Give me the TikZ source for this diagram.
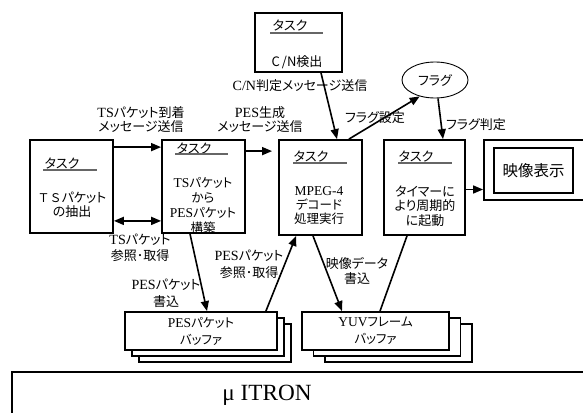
\documentclass[tikz,border=0pt]{standalone}
\usepackage{fontspec}
\setmainfont[Scale=1.08]{Liberation Serif}
\newfontfamily\jp[RawFeature=+palt]{Noto Sans CJK JP}
\newfontfamily\jpfull{Noto Sans CJK JP}
\usetikzlibrary{arrows.meta,shapes.geometric}
\newcommand\latn[1]{{\rmfamily #1}}
\begin{document}
\begin{tikzpicture}[x=1pt,y=-1pt,
 box/.style={draw, line width=1.8pt, fill=white, inner sep=0pt},
 txt/.style={font=\jp\fontsize{13}{14.5}\selectfont, align=center, inner sep=0pt},
 lbl/.style={font=\jp\fontsize{13}{15}\selectfont, align=center, inner sep=0pt},
 ttl/.style={font=\jp\fontsize{13}{14}\selectfont, inner sep=0pt},
 uline/.style={draw=black!60, line width=1.2pt},
 arr/.style={line width=1.6pt, -{Triangle[length=10pt,width=8pt]}},
 darr/.style={line width=1.6pt, {Triangle[length=10pt,width=8pt]}-{Triangle[length=10pt,width=8pt]}},
 plainline/.style={line width=1.6pt},
 buf/.style={draw, line width=1.8pt, fill=white, inner sep=0pt, minimum height=38pt}
]
\useasboundingbox (0,0) rectangle (583,412);
\begin{scope}
\clip (0,0) rectangle (583,412);
% micro ITRON base
\node[box, minimum width=588pt, minimum height=80pt] (itron) at (306,412) {};
\node[font=\rmfamily\fontsize{21.5}{25}\selectfont, inner sep=0pt] (itrontxt) at (267,395) {μ ITRON};
% display box (clipped at right)
\node[box, minimum width=116pt, minimum height=60pt] (b5) at (542,170) {};
\end{scope}
\node[box, minimum width=79pt, minimum height=45pt] (b5in) at (533.5,170.5) {};
\node[font=\jpfull\fontsize{15.5}{17}\selectfont, inner sep=0pt] (b5txt) at (533.5,171) {映像表示};

% task boxes
\node[box, minimum width=87pt, minimum height=59pt] (cn) at (298.5,42.5) {};
\node[box, minimum width=83pt, minimum height=93pt] (b1) at (71.5,186.5) {};
\node[box, minimum width=83pt, minimum height=93pt] (b2) at (203.5,186.5) {};
\node[box, minimum width=83pt, minimum height=95pt] (b3) at (320.5,187.5) {};
\node[box, minimum width=81pt, minimum height=95pt] (b4) at (424.5,187.5) {};
\node[draw, ellipse, line width=0.9pt, minimum width=66pt, minimum height=36pt, inner sep=0pt, font=\jp\fontsize{13}{14}\selectfont] (flag) at (435,80) {フラグ};

% titles
\node[ttl] (t0) at (290,25) {タスク};
\draw[uline] (270,33) -- (323,33);
\node[ttl] (t1) at (62,163) {タスク};
\draw[uline] (43,170) -- (97,170);
\node[ttl] (t2) at (194,148) {タスク};
\draw[uline] (175,154) -- (228,154);
\node[ttl] (t3) at (311,156) {タスク};
\draw[uline] (293,163) -- (347,163);
\node[ttl] (t4) at (416,156) {タスク};
\draw[uline] (398,163) -- (452,163);

% box texts
\node[txt] (x0) at (297,62) {C\,/N検出};
\node[txt] (x1) at (72,205) {{\jpfull\fontsize{12}{14}\selectfont ＴＳ}パケット\\の抽出};
\node[txt, font=\jp\fontsize{12.5}{15}\selectfont] (x2) at (203,205.5) {\latn{TS}パケット\\から\\\latn{PES}パケット\\構築};
\node[txt, font=\jp\fontsize{12.5}{14}\selectfont] (x3) at (319,205.5) {\latn{MPEG-4}\\デコード\\処理実行};
\node[txt] (x4) at (425,206) {タイマーに\\より周期的\\に起動};

% buffers
\node[buf, minimum width=152pt] (pes3) at (215,343) {};
\node[buf, minimum width=152pt] (pes2) at (208,337) {};
\node[buf, minimum width=152pt, align=center, font=\jp\fontsize{12.5}{17}\selectfont] (pes) at (201,331) {\latn{PES}パケット\\バッファ};
\node[buf, minimum width=147pt] (yuv3) at (398.5,343) {};
\node[buf, minimum width=147pt] (yuv2) at (387,337) {};
\node[buf, minimum width=147pt, align=center, font=\jp\fontsize{12.5}{17}\selectfont] (yuv) at (375.5,331) {\latn{YUV}フレーム\\バッファ};

% connectors
\draw[arr] ([yshift=-8pt]b1.north east) -- ([yshift=-8pt]b2.north west);
\draw[arr] ([yshift=-12pt]b2.north east) -- ([yshift=-12pt,xshift=-6pt]b3.north west);
\draw[darr] ([yshift=13pt]b1.south east) -- ([yshift=13pt]b2.south west);
\draw[arr] ([xshift=22.5pt]cn.south) -- ([xshift=16.5pt]b3.north);
\draw[arr] ([xshift=-14pt]b3.north east) -- (flag.227);
\draw[arr] ([xshift=3pt]flag.south) -- ([xshift=18.5pt]b4.north);
\coordinate (a45) at ([yshift=-2pt]b4.east);
\draw[arr] (a45) -- (a45 -| b5.west);
\draw[arr] ([xshift=-13.5pt]b2.south) -- ([xshift=6pt]pes.north);
\draw[arr] ([xshift=-12pt]pes.north east) -- ([xshift=18pt]b3.south west);
\draw[arr] ([xshift=-7.5pt]b3.south) -- ([xshift=-33.5pt]yuv.north);
\draw[plainline] ([xshift=4.5pt]yuv.north) -- ([xshift=-17.5pt]b4.south);

% labels
\node[lbl, font=\jp\fontsize{13}{13.5}\selectfont] (l1) at (141,119.5) {\latn{TS}パケット到着\\メッセージ送信};
\node[lbl, font=\jp\fontsize{13}{13.5}\selectfont] (l2) at (260,119.5) {\latn{PES}生成\\メッセージ送信};
\node[lbl] (l3) at (300,86) {\latn{C/N}判定メッセージ送信};
\node[lbl] (l4) at (375,118) {フラグ設定};
\node[lbl] (l5) at (476,125) {フラグ判定};
\node[lbl, font=\jp\fontsize{13}{16}\selectfont] (l6) at (140,248) {\latn{TS}パケット\\参照･取得};
\node[lbl, font=\jp\fontsize{13}{17}\selectfont] (l7) at (249,264.5) {\latn{PES}パケット\\参照･取得};
\node[lbl, font=\jp\fontsize{13}{17}\selectfont] (l8) at (166,293.5) {\latn{PES}パケット\\書込};
\node[lbl] (l9) at (357,270.5) {映像データ\\書込};
\end{tikzpicture}
\end{document}
